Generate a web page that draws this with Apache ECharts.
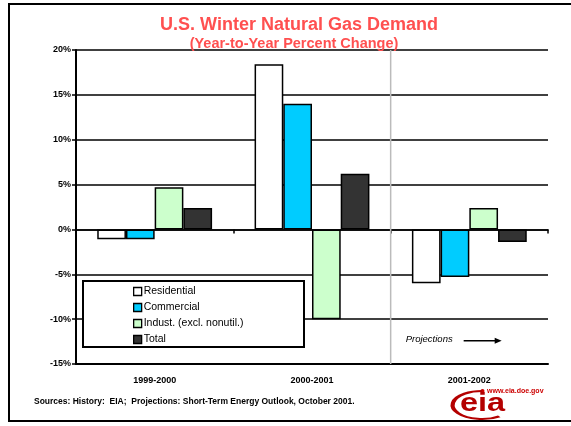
<!DOCTYPE html>
<html>
<head>
<meta charset="utf-8">
<script src="https://cdn.jsdelivr.net/npm/echarts@6/dist/echarts.min.js"></script>
<style>
html,body{margin:0;padding:0;background:#fff;}
#chart{width:571px;height:426px;}
</style>
</head>
<body>
<div id="chart"></div>
<script>
const categories = ['1999-2000', '2000-2001', '2001-2002'];
const residential = [-1.1, 18.4, -6.0];
const commercial = [-1.1, 14.0, -5.3];
const industrial = [4.7, -10.0, 2.4];
const total = [2.4, 6.2, -1.4];
const seriesNames = ['Residential', 'Commercial', 'Indust. (excl. nonutil.)', 'Total'];
const yTicks = [-15, -10, -5, 0, 5, 10, 15, 20];

const FONT = '"Liberation Sans", Arial, sans-serif';
const colors = ['#FFFFFF', '#00CCFF', '#CCFFCC', '#333333'];
const values = [residential, commercial, industrial, total];

const chart = echarts.init(document.getElementById('chart'), null, {renderer: 'canvas'});

const option = {
  animation: false,
  backgroundColor: '#fff',
  title: [
    {
      text: 'U.S. Winter Natural Gas Demand',
      left: 294, top: 11, textAlign: 'center',
      textStyle: {fontFamily: FONT, fontSize: 18, fontWeight: 'bold', color: '#FF5050'}
    },
    {
      text: '(Year-to-Year Percent Change)',
      left: 289, top: 31, textAlign: 'center',
      textStyle: {fontFamily: FONT, fontSize: 14.5, fontWeight: 'bold', color: '#FF5050'}
    }
  ],
  grid: {left: 76, right: 23, top: 50, bottom: 62, containLabel: false},
  legend: {
    orient: 'vertical',
    left: 133, top: 286,
    padding: 0,
    z: 10,
    itemWidth: 8, itemHeight: 8, itemGap: 5,
    icon: 'rect',
    data: seriesNames,
    itemStyle: {borderColor: '#000', borderWidth: 1.3},
    textStyle: {fontFamily: FONT, fontSize: 10.5, color: '#000', padding: [0, 0, 0, -3]}
  },
  xAxis: [
    {
      type: 'category', data: categories, position: 'bottom',
      axisLine: {onZero: true, lineStyle: {color: '#000', width: 1.5}},
      axisTick: {show: true, length: 4, lineStyle: {color: '#000', width: 1.5}},
      axisLabel: {show: false},
      splitLine: {show: false}
    },
    {
      type: 'category', data: categories, position: 'bottom',
      axisLine: {onZero: false, lineStyle: {color: '#000', width: 2}},
      axisTick: {show: false},
      axisLabel: {show: true, margin: 12, fontFamily: FONT, fontSize: 9, fontWeight: 'bold', color: '#000'},
      splitLine: {show: false}
    }
  ],
  yAxis: {
    type: 'value', min: yTicks[0], max: yTicks[yTicks.length - 1], interval: 5,
    axisLine: {show: true, lineStyle: {color: '#000', width: 2}},
    axisTick: {show: true, length: 4, lineStyle: {color: '#000', width: 1.5}},
    axisLabel: {formatter: '{value}%', margin: 5, fontFamily: FONT, fontSize: 9, fontWeight: 'bold', color: '#000'},
    splitLine: {show: true, lineStyle: {color: '#000', width: 1.5}}
  },
  series: seriesNames.map((name, i) => ({
    name: name,
    type: 'bar',
    xAxisIndex: 0,
    data: values[i],
    barGap: '0%',
    barCategoryGap: '27%',
    itemStyle: {color: colors[i], borderColor: '#000', borderWidth: 1.5}
  }))
};

chart.setOption(option);

const xa = chart.convertToPixel({xAxisIndex: 0}, categories[1]);
const xb = chart.convertToPixel({xAxisIndex: 0}, categories[2]);
const sep = (xa + xb) / 2;
const yTop = chart.convertToPixel({yAxisIndex: 0}, yTicks[yTicks.length - 1]);
const yBot = chart.convertToPixel({yAxisIndex: 0}, yTicks[0]);
const yProj = chart.convertToPixel({yAxisIndex: 0}, -12.3);

chart.setOption({
  graphic: [
    {type: 'rect', shape: {x: 9, y: 4, width: 580, height: 417}, style: {fill: 'none', stroke: '#000', lineWidth: 2}, z: 100},
    {type: 'line', shape: {x1: sep, y1: yTop, x2: sep, y2: yBot}, style: {stroke: '#BBBBBB', lineWidth: 1.5}, z: 5},
    {type: 'rect', shape: {x: 83, y: 281, width: 221, height: 66}, style: {fill: '#fff', stroke: '#000', lineWidth: 2}, z: 5},
    {type: 'text', x: sep + 15, y: yProj, style: {text: 'Projections', fontFamily: FONT, fontSize: 9.5, fontStyle: 'italic', fill: '#000', verticalAlign: 'middle'}, z: 50},
    {type: 'line', shape: {x1: sep + 73, y1: yProj + 1, x2: sep + 106, y2: yProj + 1}, style: {stroke: '#000', lineWidth: 1.5}, z: 50},
    {type: 'polygon', shape: {points: [[sep + 104, yProj - 2], [sep + 111, yProj + 1], [sep + 104, yProj + 4]]}, style: {fill: '#000'}, z: 50},
    {type: 'text', x: 34, y: 402, style: {text: 'Sources: History:  EIA;  Projections: Short-Term Energy Outlook, October 2001.', fontFamily: FONT, fontSize: 8.5, fontWeight: 'bold', fill: '#000', verticalAlign: 'middle'}, z: 50},
    {type: 'text', x: 487, y: 391, style: {text: 'www.eia.doe.gov', fontFamily: FONT, fontSize: 7, fontWeight: 'bold', fill: '#CC0000', verticalAlign: 'middle'}, z: 50},
    {type: 'circle', shape: {cx: 482.5, cy: 391, r: 2}, style: {fill: '#CC0000'}, z: 50},
    {type: 'arc', originX: 482, originY: 405, scaleX: 2.1, shape: {cx: 482, cy: 405, r: 14, startAngle: Math.PI * 0.3, endAngle: Math.PI * 1.5}, style: {stroke: '#B40000', lineWidth: 2, fill: 'none'}, z: 50},
    {type: 'text', x: 460, y: 404, scaleX: 1.3, originX: 0, originY: 0, style: {text: 'eia', fontFamily: FONT, fontSize: 25, fontWeight: 'bold', fill: '#B40000', verticalAlign: 'middle'}, z: 50}
  ]
});
</script>
</body>
</html>
